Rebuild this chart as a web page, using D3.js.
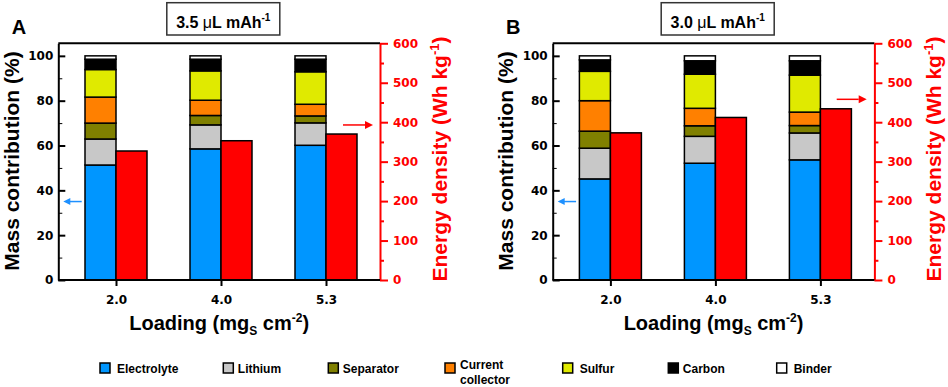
<!DOCTYPE html>
<html>
<head>
<meta charset="utf-8">
<script src="https://cdn.jsdelivr.net/npm/d3@7"></script>
<style>
  body { margin: 0; background: #fff; }
  svg { display: block; }
</style>
</head>
<body>
<script>
// loading categories (x axis)
var categories = ["2.0", "4.0", "5.3"];
var components = ["Electrolyte", "Lithium", "Separator", "Current collector", "Sulfur", "Carbon", "Binder"];
// mass contribution (%) per loading, stacked in component order
var massA = [
  [51.3, 11.6, 7.1, 11.6, 12.3, 4.6, 1.5],
  [58.5, 10.7, 4.2, 6.8, 13.1, 5.2, 1.5],
  [60.1, 10.0, 3.1, 5.2, 14.5, 5.6, 1.5]
];
var massB = [
  [45.1, 13.7, 7.6, 13.6, 13.1, 5.1, 1.8],
  [52.1, 12.0, 4.7, 7.8, 15.2, 6.0, 2.2],
  [53.6, 12.0, 3.3, 6.0, 16.5, 6.4, 2.2]
];
// energy density (Wh/kg)
var energyA = [327, 353, 370];
var energyB = [373, 412, 434];
var leftTicks = [0, 20, 40, 60, 80, 100];
var rightTicks = [0, 100, 200, 300, 400, 500, 600];

var colors = ["#0096FF", "#C8C8C8", "#808000", "#FF8000", "#E0EA00", "#000000", "#FFFFFF"];
var energyColor = "#FF0000";

var svgWidth = 948, svgHeight = 387;
var svg = d3.select("body").append("svg")
    .attr("width", svgWidth)
    .attr("height", svgHeight);

var FONT = "'Liberation Sans', Arial, sans-serif";
var TICKFONT = "'DejaVu Sans', sans-serif";

var plotW = 321.7, plotTop = 43.3, plotBottom = 280;

function drawPanel(offset, letter, ratio, mass, energy, redArrowVal) {
    var x0 = 58.3 + offset;
    var g = svg.append("g");

    var x = d3.scalePoint()
        .domain(categories)
        .range([x0 + 57.7, x0 + 267.7]);
    var yL = d3.scaleLinear().domain([0, 105.6]).range([plotBottom, plotTop]);
    var yR = d3.scaleLinear().domain([0, 600]).range([plotBottom, plotTop]);
    var bw = 31;

    // stacked mass bars
    var rows = mass.map(function(m, i) {
        var o = {cat: categories[i]};
        components.forEach(function(c, j) { o[c] = m[j]; });
        return o;
    });
    var series = d3.stack().keys(components)(rows);
    g.selectAll("g.layer")
        .data(series)
        .enter().append("g")
        .attr("fill", function(d, i) { return colors[i]; })
        .selectAll("rect")
        .data(function(d) { return d; })
        .enter().append("rect")
        .attr("x", function(d) { return x(d.data.cat) - bw; })
        .attr("y", function(d) { return yL(d[1]); })
        .attr("width", bw)
        .attr("height", function(d) { return yL(d[0]) - yL(d[1]); })
        .attr("stroke", "#000")
        .attr("stroke-width", 1.5);

    // energy density bars
    g.selectAll("rect.energy")
        .data(energy)
        .enter().append("rect")
        .attr("class", "energy")
        .attr("x", function(d, i) { return x(categories[i]); })
        .attr("y", function(d) { return yR(d); })
        .attr("width", bw)
        .attr("height", function(d) { return yR(0) - yR(d); })
        .attr("fill", energyColor)
        .attr("stroke", "#000")
        .attr("stroke-width", 1.5);

    // top frame line
    g.append("line")
        .attr("x1", x0).attr("x2", x0 + plotW)
        .attr("y1", plotTop).attr("y2", plotTop)
        .attr("stroke", "#000").attr("stroke-width", 2);

    // left axis
    var la = g.append("g")
        .attr("transform", "translate(" + x0 + ",0)")
        .call(d3.axisLeft(yL).tickValues(leftTicks).tickSizeInner(-7).tickSizeOuter(0).tickPadding(5));
    g.append("g")
        .attr("transform", "translate(" + x0 + ",0)")
        .call(d3.axisLeft(yL).tickValues([10, 30, 50, 70, 90]).tickSize(-4).tickFormat(""))
        .select(".domain").remove();

    // right axis
    var ra = g.append("g")
        .attr("transform", "translate(" + (x0 + plotW) + ",0)")
        .call(d3.axisRight(yR).tickValues(rightTicks).tickSizeInner(8).tickSizeOuter(0).tickPadding(5));
    var rm = g.append("g")
        .attr("transform", "translate(" + (x0 + plotW) + ",0)")
        .call(d3.axisRight(yR).tickValues(d3.range(50, 600, 100)).tickSize(4).tickFormat(""));
    rm.select(".domain").remove();
    rm.selectAll("line").attr("stroke", energyColor).attr("stroke-width", 2);
    ra.selectAll("line").attr("stroke", energyColor).attr("stroke-width", 2);
    ra.select(".domain").attr("stroke", energyColor).attr("stroke-width", 2);
    ra.selectAll("text").attr("fill", energyColor);

    // bottom axis
    var ba = g.append("g")
        .attr("transform", "translate(0," + plotBottom + ")")
        .call(d3.axisBottom(x).tickSizeInner(6).tickSizeOuter(0).tickPadding(9));
    ba.select(".domain").attr("d", "M" + x0 + ",0H" + (x0 + plotW));

    [la, ba].forEach(function(a) {
        a.selectAll("line").attr("stroke-width", 2);
        a.select(".domain").attr("stroke-width", 2);
    });
    g.selectAll(".tick text")
        .attr("font-family", TICKFONT)
        .attr("font-weight", "bold")
        .attr("font-size", 12);
    g.selectAll(".tick text").filter(function() { return this.parentNode.parentNode === ra.node(); })
        .attr("fill", energyColor);
    la.selectAll("text").attr("fill", "#000");
    ba.selectAll("text").attr("fill", "#000");

    // axis titles
    g.append("text")
        .attr("transform", "translate(" + (x0 - 39.8) + ",161) rotate(-90)")
        .attr("text-anchor", "middle")
        .attr("font-family", FONT).attr("font-weight", "bold").attr("font-size", 21)
        .text("Mass contribution (%)");

    var et = g.append("text")
        .attr("transform", "translate(" + (x0 + plotW + 66.5) + ",159) rotate(-90)")
        .attr("text-anchor", "middle")
        .attr("font-family", FONT).attr("font-weight", "bold").attr("font-size", 21)
        .attr("fill", energyColor);
    et.append("tspan").text("Energy density (Wh kg");
    et.append("tspan").attr("font-size", 13).attr("dy", -8).text("-1");
    et.append("tspan").attr("dy", 8).text(")");

    var xt = g.append("text")
        .attr("x", x0 + plotW / 2).attr("y", 330)
        .attr("text-anchor", "middle")
        .attr("font-family", FONT).attr("font-weight", "bold").attr("font-size", 20);
    xt.append("tspan").text("Loading (mg");
    xt.append("tspan").attr("font-size", 12).attr("dy", 5).text("S");
    xt.append("tspan").attr("dy", -5).text(" cm");
    xt.append("tspan").attr("font-size", 12).attr("dy", -8).text("-2");
    xt.append("tspan").attr("dy", 8).text(")");

    // title box
    var cx = x0 + 165;
    g.append("rect")
        .attr("x", cx - 56.5).attr("y", 2.7)
        .attr("width", 113).attr("height", 32.3)
        .attr("fill", "#fff").attr("stroke", "#333").attr("stroke-width", 1.5);
    var tt = g.append("text")
        .attr("x", cx).attr("y", 28.3)
        .attr("text-anchor", "middle")
        .attr("font-family", FONT).attr("font-weight", "bold").attr("font-size", 16);
    tt.append("tspan").text(ratio + " ");
    tt.append("tspan").attr("font-weight", "normal").text("\u03BC");
    tt.append("tspan").text("L mAh");
    tt.append("tspan").attr("font-size", 10).attr("dy", -7).text("-1");

    // panel letter
    g.append("text")
        .attr("x", x0 - 46.6).attr("y", 34)
        .attr("font-family", FONT).attr("font-weight", "bold").attr("font-size", 20)
        .text(letter);

    // arrows
    var blueY = yL(35);
    g.append("line")
        .attr("x1", x0 + 23.4).attr("x2", x0 + 10)
        .attr("y1", blueY).attr("y2", blueY)
        .attr("stroke", "#1E90FF").attr("stroke-width", 1.5);
    g.append("path")
        .attr("d", "M" + (x0 + 5) + "," + blueY + "l7,-3.5v7z")
        .attr("fill", "#1E90FF");
    var redY = yR(redArrowVal);
    var rx = letter === "A" ? x0 + 284.7 : x0 + 284;
    g.append("line")
        .attr("x1", rx).attr("x2", rx + 22)
        .attr("y1", redY).attr("y2", redY)
        .attr("stroke", energyColor).attr("stroke-width", 1.5);
    g.append("path")
        .attr("d", "M" + (rx + 30) + "," + redY + "l-8,-4v8z")
        .attr("fill", energyColor);
}

drawPanel(0, "A", "3.5", massA, energyA, 393);
drawPanel(494.4, "B", "3.0", massB, energyB, 458);

// legend
var legendX = [100, 223.3, 328.3, 445, 562.7, 668.3, 776.7];
var legend = svg.append("g");
components.forEach(function(c, i) {
    var lx = legendX[i];
    legend.append("rect")
        .attr("x", lx).attr("y", 363)
        .attr("width", 10).attr("height", 10)
        .attr("fill", colors[i]).attr("stroke", "#000").attr("stroke-width", 1.5);
    var t = legend.append("text")
        .attr("x", lx + 17).attr("y", 373)
        .attr("font-family", FONT).attr("font-weight", "bold").attr("font-size", 12);
    if (c === "Current collector") {
        t.attr("x", lx + 15).attr("y", 368.5);
        t.append("tspan").text("Current");
        t.append("tspan").attr("x", lx + 15).attr("dy", 15).text("collector");
    } else {
        if (i === 1 || i === 2 || i === 5) t.attr("x", lx + 14.5);
        t.text(c);
    }
});
</script>
</body>
</html>
